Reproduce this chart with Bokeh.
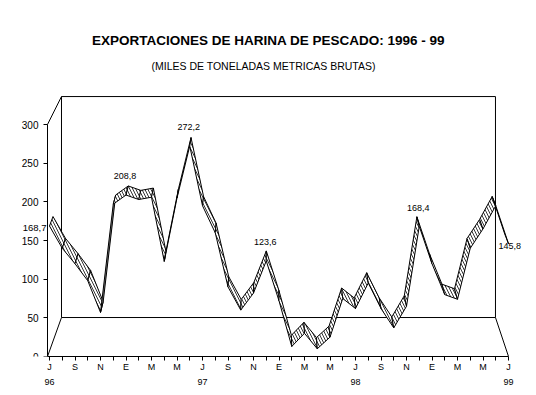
import numpy as np
from bokeh.plotting import figure
from bokeh.models import FixedTicker, LabelSet, ColumnDataSource, Label, Range1d, LinearAxis
from bokeh.core.properties import value
from bokeh.embed import file_html
from bokeh.resources import INLINE

# ---------------- data ----------------
title_text = "EXPORTACIONES DE HARINA DE PESCADO: 1996 - 99"
subtitle_text = "(MILES DE  TONELADAS  METRICAS BRUTAS)"

# monthly exports, Jul 1996 .. Jul 1999 (thousand tonnes)
values = [168.7, 140, 120, 98, 57, 197,
          208.8, 203, 206, 123, 205, 272.2, 195, 160, 90, 60, 82, 123.6,
          72, 13, 30, 10, 25, 75, 62, 95, 62, 37, 65, 168.4,
          120, 80, 74, 140, 165, 195, 145.8]

tick_labels = ["J", "", "S", "", "N", "", "E", "", "M", "", "M", "",
               "J", "", "S", "", "N", "", "E", "", "M", "", "M", "",
               "J", "", "S", "", "N", "", "E", "", "M", "", "M", "",
               "J"]
year_labels = ["96", "97", "98", "99"]
year_index = [0, 12, 24, 36]
y_ticks = [0, 50, 100, 150, 200, 250, 300]

labelled_index = [0, 6, 11, 17, 29, 36]

# ---------------- geometry / style ----------------
W, H = 536, 395
BB = 39
PXX = 12.75            # pixels per month
XA = -2 / PXX          # position of the value axis (front-left edge)
X0 = -49 / PXX         # left edge of the plotting frame
X1 = X0 + W / PXX
Y0 = 0
Y1 = (H - BB) / 0.7733
PXY = (H - BB) / (Y1 - Y0)

# back wall plane as seen in perspective (data units)
BX0, BSX = 0.941, 0.9455
BY0, BSY = 50.4, 0.9525
RIB = 0.29  # ribbon depth (fraction of the floor depth)


def back(ix, v):
    return BX0 + BSX * np.asarray(ix, float), BY0 + BSY * np.asarray(v, float)


FONT = "Liberation Sans"

p = figure(width=W, height=H, x_range=Range1d(X0, X1), y_range=Range1d(Y0, Y1),
           output_backend="svg", toolbar_location=None,
           min_border_left=0, min_border_right=0, min_border_top=0,
           min_border_bottom=BB)
p.outline_line_color = None
p.xgrid.visible = False
p.ygrid.visible = False
p.background_fill_color = "white"
p.border_fill_color = "white"

# ---- walls of the 3D box ----
n = len(values)
last = n - 1
ymax = y_ticks[-1]
bl = back(0, 0)
tl = back(0, ymax)
tr = back(last, ymax)
br = back(last, 0)
p.line([XA, bl[0], tl[0], tr[0], br[0], last],
       [0, bl[1], tl[1], tr[1], br[1], 0], line_color="black", line_width=1)
p.line([bl[0], br[0]], [bl[1], br[1]], line_color="black", line_width=1)
p.line([XA, tl[0]], [ymax, tl[1]], line_color="black", line_width=1)

# ---- ribbon ----
idx = np.arange(n, dtype=float)
vals = np.asarray(values, float)
bx, by = back(idx, vals)
rx = idx + RIB * (bx - idx)
ry = vals + RIB * (by - vals)

xs, ys, fills, hatches = [], [], [], []
for i in range(n - 1):
    xs.append([idx[i], idx[i + 1], rx[i + 1], rx[i]])
    ys.append([vals[i], vals[i + 1], ry[i + 1], ry[i]])
    segx = (idx[i + 1] - idx[i]) * PXX
    segy = -(vals[i + 1] - vals[i]) * PXY
    offx = ((rx[i] - idx[i]) + (rx[i + 1] - idx[i + 1])) / 2 * PXX
    offy = -((ry[i] - vals[i]) + (ry[i + 1] - vals[i + 1])) / 2 * PXY
    cross = segx * offy - segy * offx
    if cross < 0:
        fills.append("white")
        hatches.append("\\")
    else:
        fills.append("#808080")
        hatches.append(" ")

rsrc = ColumnDataSource(dict(xs=xs, ys=ys, fill=fills, hatch=hatches))
p.patches("xs", "ys", source=rsrc, fill_color="fill", line_color="black",
          line_width=1, hatch_pattern="hatch", hatch_color="black",
          hatch_scale=6, hatch_weight=0.8)

# ---- axes ----
ax = p.xaxis[0]
ax.ticker = FixedTicker(ticks=list(range(n)))
ax.major_label_overrides = {i: t for i, t in enumerate(tick_labels)}
ax.bounds = (XA, last)
ax.major_tick_in = 0
ax.major_tick_out = 4
ax.minor_tick_line_color = None
ax.major_label_standoff = 1
ax.major_label_text_font = FONT
ax.major_label_text_font_size = "9px"
ax.major_label_text_color = "black"
ax.axis_line_color = "black"
ax.major_tick_line_color = "black"

# second row of the category axis: the years
ax2 = LinearAxis(ticker=FixedTicker(ticks=year_index),
                 major_label_overrides={i: t for i, t in zip(year_index, year_labels)},
                 axis_line_color=None, major_tick_line_color=None,
                 minor_tick_line_color=None, major_tick_in=0, major_tick_out=0,
                 major_label_standoff=4, major_label_text_font=FONT,
                 major_label_text_font_size="9px", major_label_text_color="black")
p.add_layout(ax2, "below")

ay = p.yaxis[0]
ay.fixed_location = XA
ay.ticker = FixedTicker(ticks=y_ticks)
ay.bounds = (0, ymax)
ay.major_tick_in = 0
ay.major_tick_out = 4
ay.minor_tick_line_color = None
ay.major_label_standoff = 5
ay.major_label_text_font = FONT
ay.major_label_text_font_size = "10px"
ay.major_label_text_color = "black"
ay.axis_line_color = "black"
ay.major_tick_line_color = "black"

# data labels
def fmt(v):
    return f"{v:.1f}".replace(".", ",")

above = [i for i in labelled_index if 0 < i < last]
asrc = ColumnDataSource(dict(x=[float(i) for i in above],
                             y=[values[i] + 24 for i in above],
                             t=[fmt(values[i]) for i in above]))
p.add_layout(LabelSet(x="x", y="y", text="t", source=asrc, x_offset=-1,
                      text_align="center", text_baseline="middle",
                      text_font=value(FONT), text_font_size="9px", text_color="black"))
p.add_layout(Label(x=0, y=values[0], text=fmt(values[0]), x_offset=-3, y_offset=-2,
                   text_align="right", text_baseline="middle",
                   text_font=FONT, text_font_size="9.5px", text_color="black"))
p.add_layout(Label(x=last, y=values[last], text=fmt(values[last]), x_offset=-10, y_offset=-2,
                   text_align="left", text_baseline="middle",
                   text_font=FONT, text_font_size="9px", text_color="black"))

# titles
p.add_layout(Label(x=X0 + 268 / PXX, y=(H - BB - 39.5) / PXY, text=title_text,
                   text_align="center", text_baseline="middle", text_font=FONT,
                   text_font_size="13.5px", text_font_style="bold", text_color="black"))
p.add_layout(Label(x=X0 + 266 / PXX, y=(H - BB - 65.5) / PXY, text=subtitle_text,
                   text_align="center", text_baseline="middle", text_font=FONT,
                   text_font_size="10.5px", text_color="black"))

open("out.html", "w").write(file_html(p, INLINE))
